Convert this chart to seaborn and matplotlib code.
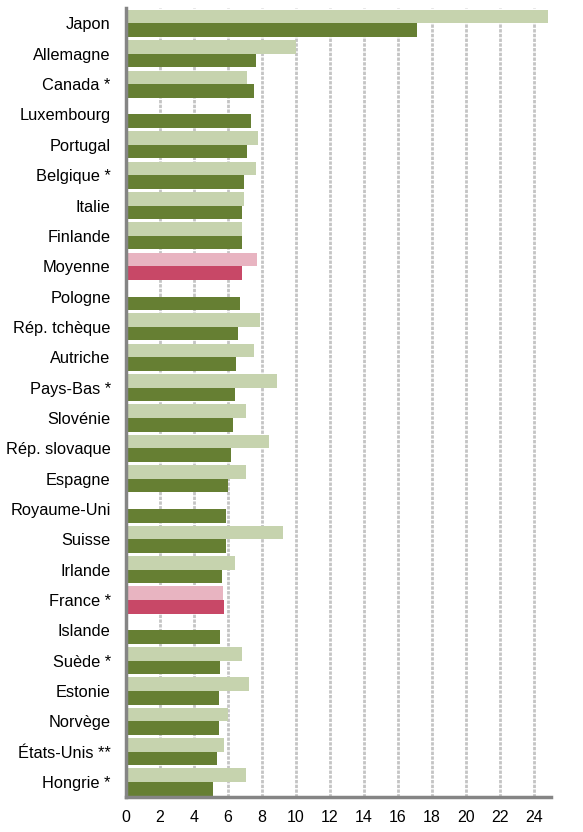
import matplotlib
matplotlib.use("Agg")
import matplotlib.pyplot as plt
import numpy as np
import pandas as pd
import seaborn as sns

# Values (NaN = no bar shown)
countries = [
    "Japon", "Allemagne", "Canada *", "Luxembourg", "Portugal", "Belgique *",
    "Italie", "Finlande", "Moyenne", "Pologne", "Rép. tchèque", "Autriche",
    "Pays-Bas *", "Slovénie", "Rép. slovaque", "Espagne", "Royaume-Uni",
    "Suisse", "Irlande", "France *", "Islande", "Suède *", "Estonie",
    "Norvège", "États-Unis **", "Hongrie *",
]
serie_claire = [
    24.8, 10.0, 7.1, np.nan, 7.75, 7.65, 6.95, 6.8, 7.7, np.nan, 7.9, 7.55,
    8.9, 7.05, 8.4, 7.05, np.nan, 9.25, 6.4, 5.7, np.nan, 6.8, 7.25, 6.0,
    5.75, 7.05,
]
serie_foncee = [
    17.1, 7.65, 7.55, 7.35, 7.15, 6.95, 6.8, 6.8, 6.8, 6.7, 6.6, 6.5,
    6.4, 6.3, 6.2, 6.0, 5.9, 5.9, 5.65, 5.75, 5.55, 5.55, 5.45, 5.45,
    5.35, 5.15,
]
highlight = ["Moyenne", "France *"]
x_ticks = list(range(0, 25, 2))

n = len(countries)
df = pd.DataFrame({
    "pays": countries * 2,
    "valeur": serie_claire + serie_foncee,
    "serie": ["claire"] * n + ["foncee"] * n,
})

light_green, dark_green = "#c6d3ae", "#667f33"
light_pink, dark_red = "#e8b4c1", "#c84867"
axis_grey = "#858585"

sns.set_style("white")
plt.rcParams["font.family"] = ["Liberation Sans", "DejaVu Sans"]

fig = plt.figure(figsize=(5.83, 8.32), dpi=100)
ax = fig.add_axes([0.216, 0.042, 0.729, 0.948])

sns.barplot(
    data=df, y="pays", x="valeur", hue="serie", orient="h",
    order=countries, hue_order=["claire", "foncee"],
    palette=[light_green, dark_green], saturation=1, width=0.9,
    errorbar=None, linewidth=0, legend=False, ax=ax,
)

# recolour the highlighted rows (average and France)
for p in ax.patches:
    yc = p.get_y() + p.get_height() / 2
    i = int(round(yc))
    if 0 <= i < n and countries[i] in highlight:
        p.set_facecolor(light_pink if yc < i else dark_red)

ax.set_xlim(0, 25)
ax.set_ylim(n - 0.5, -0.5)
ax.set_xticks(x_ticks)
ax.set_axisbelow(True)
ax.xaxis.grid(True, color="#c4c4c4", linestyle=(0, (1.2, 0.5)), linewidth=2)
ax.yaxis.grid(False)

ax.tick_params(axis="x", direction="in", length=4, width=2, color=axis_grey,
               pad=9, labelsize=11.5, labelcolor="black")
ax.tick_params(axis="y", which="major", length=0, pad=11, labelsize=11.8,
               labelcolor="black")
ax.set_yticks(np.arange(-0.5, n, 1), minor=True)
ax.tick_params(axis="y", which="minor", direction="in", length=5, width=2,
               color=axis_grey)

for side in ["top", "right"]:
    ax.spines[side].set_visible(False)
for side in ["left", "bottom"]:
    ax.spines[side].set_color(axis_grey)
    ax.spines[side].set_linewidth(2.5)

ax.set_xlabel("")
ax.set_ylabel("")

fig.savefig("out.png", dpi=100)
